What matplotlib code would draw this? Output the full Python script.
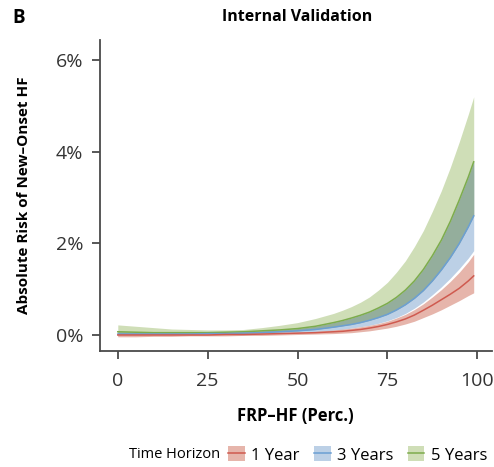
import numpy as np
import matplotlib
matplotlib.use("Agg")
import matplotlib.pyplot as plt
from matplotlib.patches import Patch
from matplotlib.lines import Line2D

plt.rcParams['font.family'] = ['Open Sans', 'DejaVu Sans']

# FRP-HF percentile
perc = [0, 5, 10, 15, 20, 25, 30, 35, 40, 45, 50, 55, 60, 62.5, 65, 67.5, 70, 72.5, 75,
        77.5, 80, 82.5, 85, 87.5, 90, 92.5, 95, 97.5, 99]

# absolute risk (%) - 1 year
y1_mid = [0.0, 0.0, 0.0, 0.0, 0.0, 0.0, 0.01, 0.01, 0.02, 0.03, 0.04, 0.05, 0.07, 0.08, 0.10, 0.12,
          0.15, 0.185, 0.23, 0.285, 0.35, 0.435, 0.54, 0.65, 0.77, 0.89, 1.02, 1.18, 1.29]
y1_lo = [-0.04, -0.04, -0.03, -0.03, -0.02, -0.02, -0.02, -0.01, -0.01, 0.0, 0.01, 0.02, 0.03, 0.04,
         0.05, 0.07, 0.09, 0.12, 0.15, 0.19, 0.24, 0.30, 0.38, 0.46, 0.55, 0.65, 0.75, 0.86, 0.92]
y1_hi = [0.03, 0.02, 0.02, 0.02, 0.02, 0.02, 0.02, 0.03, 0.04, 0.05, 0.06, 0.08, 0.11, 0.13, 0.15,
         0.18, 0.21, 0.25, 0.30, 0.37, 0.45, 0.555, 0.68, 0.83, 0.99, 1.17, 1.37, 1.60, 1.76]

# 3 years
y3_mid = [0.02, 0.02, 0.02, 0.02, 0.02, 0.03, 0.03, 0.04, 0.05, 0.07, 0.09, 0.12, 0.17, 0.20, 0.23,
          0.27, 0.32, 0.38, 0.45, 0.545, 0.66, 0.80, 0.97, 1.18, 1.42, 1.69, 2.00, 2.36, 2.60]
y3_lo = [-0.03, -0.02, -0.01, -0.01, 0.0, 0.0, 0.01, 0.01, 0.02, 0.03, 0.05, 0.07, 0.10, 0.12, 0.15,
         0.18, 0.21, 0.255, 0.31, 0.38, 0.47, 0.585, 0.72, 0.88, 1.05, 1.24, 1.45, 1.68, 1.84]
y3_hi = [0.07, 0.06, 0.05, 0.05, 0.05, 0.05, 0.06, 0.07, 0.09, 0.11, 0.14, 0.19, 0.27, 0.315, 0.37,
         0.43, 0.50, 0.59, 0.69, 0.82, 0.98, 1.18, 1.43, 1.73, 2.07, 2.48, 2.95, 3.45, 3.78]

# 5 years
y5_mid = [0.07, 0.06, 0.05, 0.05, 0.05, 0.05, 0.06, 0.07, 0.09, 0.11, 0.14, 0.19, 0.27, 0.315, 0.37,
          0.43, 0.50, 0.59, 0.69, 0.82, 0.98, 1.18, 1.43, 1.73, 2.07, 2.48, 2.95, 3.45, 3.78]
y5_lo = [0.0, 0.0, 0.01, 0.01, 0.02, 0.03, 0.03, 0.04, 0.05, 0.07, 0.09, 0.12, 0.17, 0.20, 0.23,
         0.27, 0.32, 0.38, 0.45, 0.545, 0.66, 0.80, 0.97, 1.18, 1.42, 1.69, 2.00, 2.36, 2.60]
y5_hi = [0.22, 0.19, 0.16, 0.13, 0.12, 0.11, 0.11, 0.12, 0.16, 0.21, 0.27, 0.36, 0.47, 0.54, 0.62,
         0.715, 0.83, 0.98, 1.15, 1.37, 1.62, 1.93, 2.28, 2.70, 3.15, 3.66, 4.22, 4.82, 5.20]

labels = ["1 Year", "3 Years", "5 Years"]
line_cols = ["#cf5a4f", "#6b9fd3", "#7dac4c"]
band_cols = ["#e6b5ab", "#bcd0e6", "#cfdeb7"]
overlap_col = "#94ae9c"

x = np.array(perc)

fig = plt.figure(figsize=(4.94, 4.67), dpi=100)
ax = fig.add_axes([100 / 494, 1 - 351 / 467, 391.5 / 494, 311 / 467])

ax.fill_between(x, y5_lo, y5_hi, color=band_cols[2], lw=0)
ax.fill_between(x, y3_lo, y3_hi, color=band_cols[1], lw=0)
lo = np.maximum(y5_lo, y3_lo)
hi = np.minimum(y5_hi, y3_hi)
ax.fill_between(x, lo, hi, where=hi > lo, color=overlap_col, lw=0)
ax.fill_between(x, y1_lo, y1_hi, color=band_cols[0], lw=0)

for mid, c in zip([y5_mid, y3_mid, y1_mid], line_cols[::-1]):
    ax.plot(x, mid, color=c, lw=1.1)

ax.set_xlim(-4.95, 103.95)
ax.set_ylim(-0.35, 6.44)
ax.set_xticks([0, 25, 50, 75, 100])
ax.set_yticks([0, 2, 4, 6])
ax.set_yticklabels(["0%", "2%", "4%", "6%"])

for s in ["top", "right"]:
    ax.spines[s].set_visible(False)
for s in ["left", "bottom"]:
    ax.spines[s].set_color("#4a4a4a")
    ax.spines[s].set_linewidth(1.3)
ax.tick_params(axis="both", length=6, width=1.3, color="#4a4a4a",
               labelsize=14, labelcolor="#333333", pad=6)
ax.tick_params(axis="x", pad=9)

ax.set_xlabel("FRP–HF (Perc.)", fontsize=12, fontweight="bold", labelpad=12)
ax.set_ylabel("Absolute Risk of New–Onset HF", fontsize=11, fontweight="bold", labelpad=18)

fig.text(297 / 494, 1 - 17 / 467, "Internal Validation", ha="center", va="center",
         fontsize=11.5, fontweight="bold")
fig.text(12 / 494, 1 - 18 / 467, "B", ha="left", va="center", fontsize=13.5, fontweight="bold")

handles = []
for lc, bc in zip(line_cols, band_cols):
    handles.append((Patch(facecolor=bc, edgecolor="none"), Line2D([], [], color=lc, lw=1.1)))
fig.text(220 / 494, 1 - 455 / 467, "Time Horizon", ha="right", va="center", fontsize=10.5)
fig.legend(handles, labels, loc="center left", bbox_to_anchor=(228 / 494, 1 - 455 / 467),
           ncol=3, frameon=False, fontsize=12, handlelength=1.0, handleheight=1.0,
           handletextpad=0.4, columnspacing=0.85, borderpad=0, borderaxespad=0)

fig.savefig("out.png", dpi=100)
